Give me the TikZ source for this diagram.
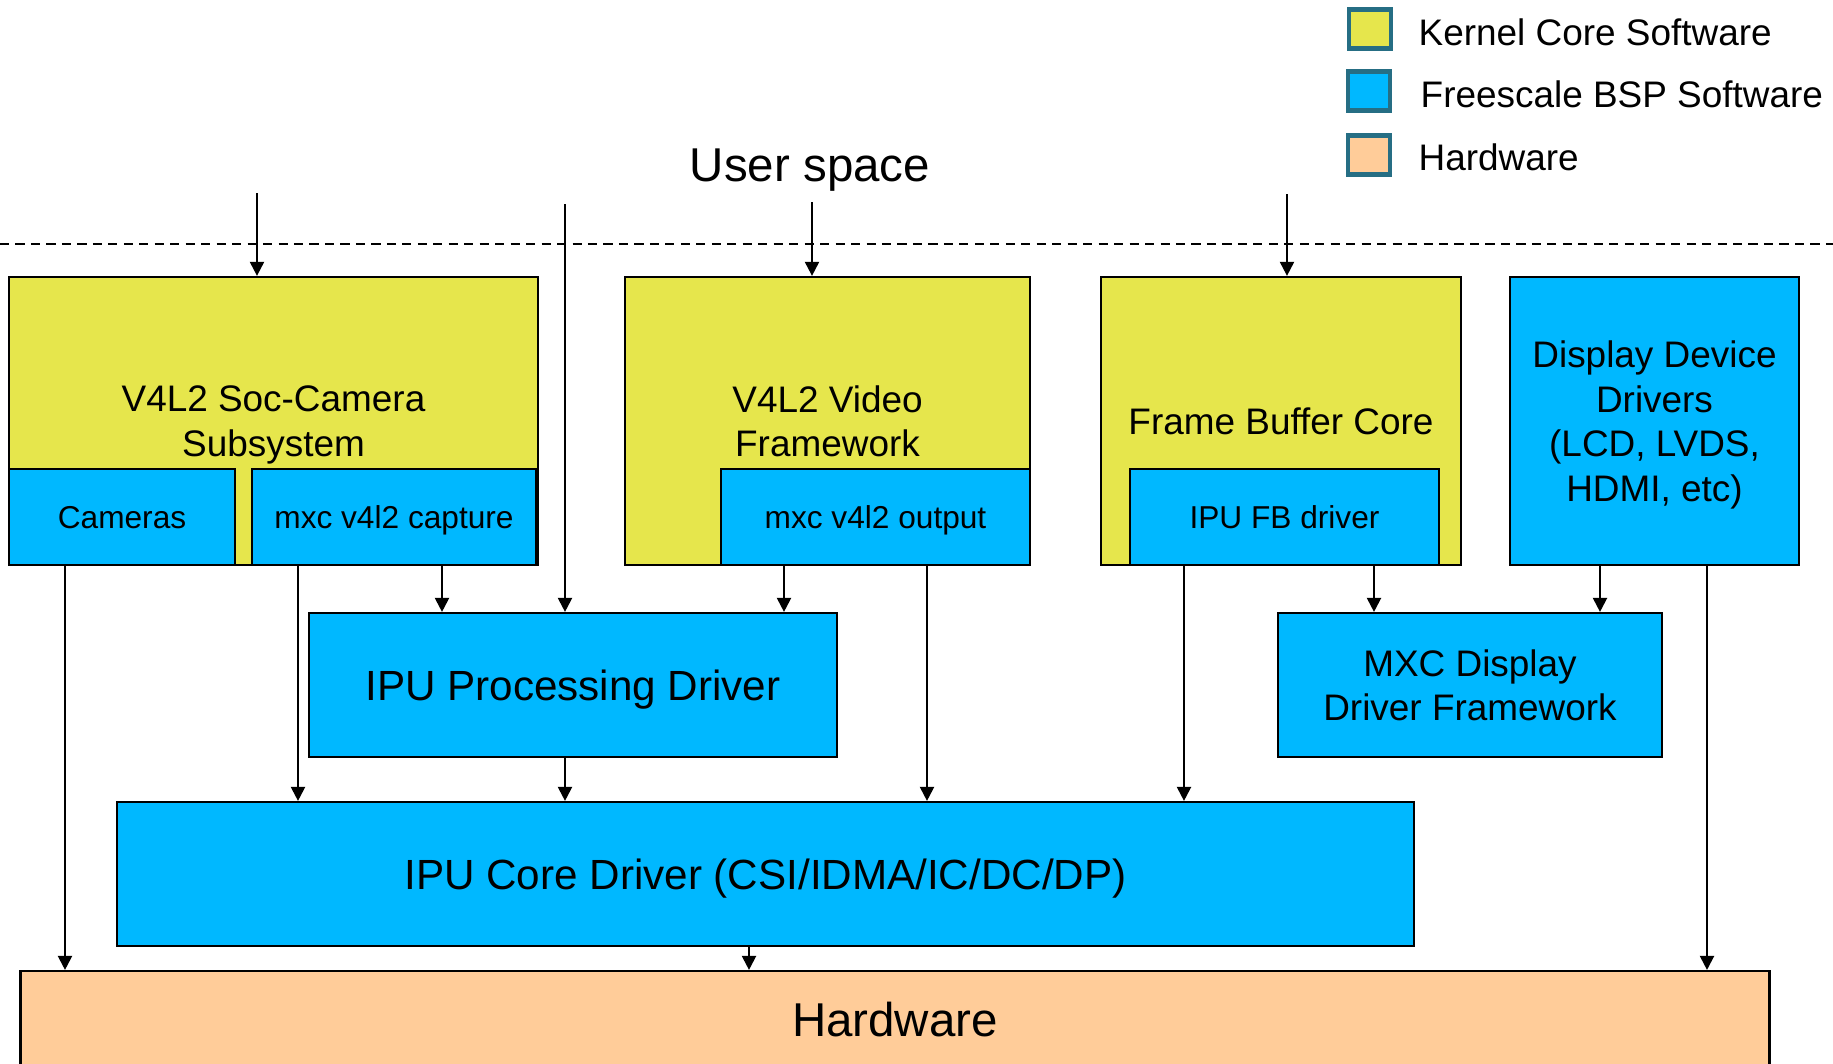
\documentclass[tikz,border=0pt]{standalone}
\usepackage{fontspec}
\setmainfont{Liberation Sans}
\usetikzlibrary{arrows.meta,positioning}

\definecolor{kernelyellow}{RGB}{230,230,76}
\definecolor{bspblue}{RGB}{0,184,255}
\definecolor{hwpeach}{RGB}{255,204,153}
\definecolor{legendedge}{RGB}{38,110,132}

\begin{document}
\begin{tikzpicture}[
  x=0.01cm, y=-0.01cm,
  >={Triangle[length=4pt, width=4pt]},
  every node/.style={font={\fontsize{10.5}{12.7}\selectfont}},
  box/.style={draw, line width=0.6pt, align=center, inner sep=0pt,
              text depth=-1.5pt},
  kernel/.style={box, fill=kernelyellow},
  bsp/.style={box, fill=bspblue},
  hw/.style={box, fill=hwpeach},
  small/.style={font={\fontsize{9}{10.8}\selectfont}},
  big/.style={font={\fontsize{12}{14.4}\selectfont}},
  huge/.style={font={\fontsize{13.5}{16.2}\selectfont}},
  legkey/.style={draw=legendedge, line width=1.2pt,
                 minimum width=4.2mm, minimum height=3.9mm, inner sep=0pt},
  legtext/.style={anchor=west, inner sep=0pt},
  link/.style={->, line width=0.6pt},
]
  \useasboundingbox (0,0) rectangle (1833,1063);
  \clip (0,0) rectangle (1833,1063);
  \fill[white] (0,0) rectangle (1833,1063);

  % Legend
  \node[legkey, fill=kernelyellow] (keykernel) at (1370,29) {};
  \node[legkey, fill=bspblue] (keybsp) at (1369,91) {};
  \node[legkey, fill=hwpeach] (keyhw) at (1369,155) {};
  \node[legtext] (txtkernel) at (1418,32) {Kernel Core Software};
  \node[legtext] (txtbsp) at (1420,94) {Freescale BSP Software};
  \node[legtext] (txthw) at (1418,157) {Hardware};

  % User / kernel boundary
  \node[huge] (userspace) at (810,170) {User space};
  \draw[line width=0.45pt, dash pattern=on 2.6pt off 1.8pt] (0,244) -- (1833,244);

  % Upper row
  \node[kernel, minimum width=5.29cm, minimum height=2.88cm]
    (socbox) at (273.5,421) {V4L2 Soc-Camera\\Subsystem};
  \node[bsp, small, minimum width=2.26cm, minimum height=0.96cm]
    (cameras) at (122,517) {Cameras};
  \node[bsp, small, minimum width=2.84cm, minimum height=0.96cm]
    (capture) at (394,517) {mxc v4l2 capture};

  \node[kernel, minimum width=4.05cm, minimum height=2.88cm]
    (videobox) at (827.5,421) {V4L2 Video\\Framework};
  \node[bsp, small, minimum width=3.09cm, minimum height=0.96cm]
    (output) at (875.5,517) {mxc v4l2 output};

  \node[kernel, minimum width=3.60cm, minimum height=2.88cm]
    (fbcore) at (1281,421) {Frame Buffer Core};
  \node[bsp, small, minimum width=3.09cm, minimum height=0.96cm]
    (fbdriver) at (1284.5,517) {IPU FB driver};

  \node[bsp, minimum width=2.89cm, minimum height=2.88cm]
    (display) at (1654.5,421) {Display Device\\Drivers\\(LCD, LVDS,\\HDMI, etc)};

  % Middle and lower rows
  \node[bsp, big, minimum width=5.28cm, minimum height=1.44cm]
    (ipuproc) at (573,685) {IPU Processing Driver};
  \node[bsp, minimum width=3.84cm, minimum height=1.44cm]
    (mxcdisp) at (1470,685) {MXC Display\\Driver Framework};
  \node[bsp, big, minimum width=12.97cm, minimum height=1.44cm]
    (ipucore) at (765.5,874) {IPU Core Driver (CSI/IDMA/IC/DC/DP)};
  \node[hw, huge, minimum width=17.48cm, minimum height=0.96cm]
    (hardware) at (895,1019) {Hardware};

  % Entry points from user space
  \coordinate (in-soc) at (257,193);
  \coordinate (in-proc) at (565,204);
  \coordinate (in-video) at (812,202);
  \coordinate (in-fb) at (1287,194);
  \draw[link] (in-soc) -- (in-soc |- socbox.north);
  \draw[link] (in-proc) -- (in-proc |- ipuproc.north);
  \draw[link] (in-video) -- (in-video |- videobox.north);
  \draw[link] (in-fb) -- (in-fb |- fbcore.north);

  % Columns of the inner links
  \coordinate (c-cam) at (65,0);
  \coordinate (c-capcore) at (298,0);
  \coordinate (c-capproc) at (442,0);
  \coordinate (c-proc) at (565,0);
  \coordinate (c-core) at (749,0);
  \coordinate (c-outproc) at (784,0);
  \coordinate (c-outcore) at (927,0);
  \coordinate (c-fbcore) at (1184,0);
  \coordinate (c-fbmxc) at (1374,0);
  \coordinate (c-dispmxc) at (1600,0);
  \coordinate (c-disphw) at (1707,0);

  \draw[link] (cameras.south -| c-cam) -- (hardware.north -| c-cam);
  \draw[link] (capture.south -| c-capcore) -- (ipucore.north -| c-capcore);
  \draw[link] (capture.south -| c-capproc) -- (ipuproc.north -| c-capproc);
  \draw[link] (ipuproc.south -| c-proc) -- (ipucore.north -| c-proc);
  \draw[link] (ipucore.south -| c-core) -- (hardware.north -| c-core);
  \draw[link] (output.south -| c-outproc) -- (ipuproc.north -| c-outproc);
  \draw[link] (output.south -| c-outcore) -- (ipucore.north -| c-outcore);
  \draw[link] (fbdriver.south -| c-fbcore) -- (ipucore.north -| c-fbcore);
  \draw[link] (fbdriver.south -| c-fbmxc) -- (mxcdisp.north -| c-fbmxc);
  \draw[link] (display.south -| c-dispmxc) -- (mxcdisp.north -| c-dispmxc);
  \draw[link] (display.south -| c-disphw) -- (hardware.north -| c-disphw);
\end{tikzpicture}
\end{document}
